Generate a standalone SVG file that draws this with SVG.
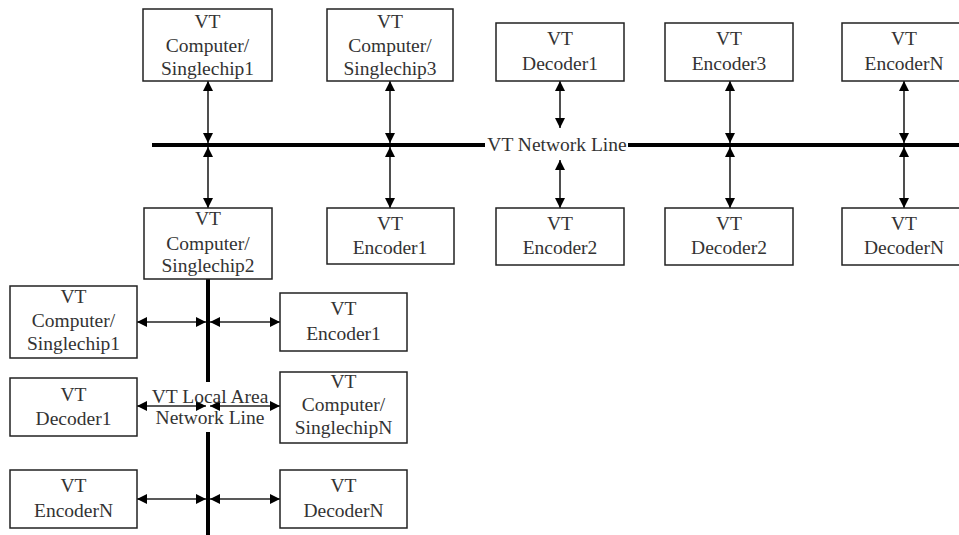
<svg xmlns="http://www.w3.org/2000/svg" width="959" height="535" viewBox="0 0 959 535">
<style>
.box{fill:#fff;stroke:#222;stroke-width:1.5}
text{font-family:"Liberation Serif","Times New Roman",serif;font-size:19.5px;fill:#333;text-anchor:middle}
.c{stroke:#222;stroke-width:1.6;fill:none;marker-start:url(#ah);marker-end:url(#ah)}
.bus{stroke:#000;stroke-width:4;fill:none}
</style>
<defs>
<marker id="ah" viewBox="0 0 10 10" refX="10" refY="5" markerWidth="10" markerHeight="10" markerUnits="userSpaceOnUse" orient="auto-start-reverse">
<path d="M0,0 L10,5 L0,10 z" fill="#000"/>
</marker>
</defs>
<rect width="959" height="535" fill="#fff"/>
<g id="connectors">
<path class="bus" d="M152,145 H485 M628,145 H959"/>
<path class="bus" d="M208,279 V382 M208,432 V535"/>
<path class="c" d="M208,81 V143"/>
<path class="c" d="M208,147 V208"/>
<path class="c" d="M390,81 V143"/>
<path class="c" d="M390,147 V208"/>
<path class="c" d="M560,81 V128"/>
<path class="c" d="M560,160 V208"/>
<path class="c" d="M730,81 V143"/>
<path class="c" d="M730,147 V208"/>
<path class="c" d="M904,81 V143"/>
<path class="c" d="M904,147 V208"/>
<path class="c" d="M137,322 H206"/>
<path class="c" d="M210,322 H280"/>
<path class="c" d="M137,406 H206"/>
<path class="c" d="M210,406 H280"/>
<path class="c" d="M137,499 H206"/>
<path class="c" d="M210,499 H280"/>
<text x="557" y="151">VT Network Line</text>
<text x="210" y="403">VT Local Area</text>
<text x="210" y="424">Network Line</text>
</g>
<g id="cs1"><rect class="box" x="143" y="9" width="129" height="72"/><text x="207.5" y="28">VT</text><text x="207.5" y="52">Computer/</text><text x="207.5" y="75">Singlechip1</text></g>
<g id="cs3"><rect class="box" x="327" y="9" width="126" height="72"/><text x="390" y="28">VT</text><text x="390" y="52">Computer/</text><text x="390" y="75">Singlechip3</text></g>
<g id="dec1"><rect class="box" x="496" y="23" width="128" height="58"/><text x="560" y="45">VT</text><text x="560" y="70">Decoder1</text></g>
<g id="enc3"><rect class="box" x="665" y="23" width="128" height="58"/><text x="729" y="45">VT</text><text x="729" y="70">Encoder3</text></g>
<g id="encN"><rect class="box" x="842" y="23" width="128" height="58"/><text x="904" y="45">VT</text><text x="904" y="70">EncoderN</text></g>
<g id="cs2"><rect class="box" x="144" y="208" width="128" height="71"/><text x="208" y="225">VT</text><text x="208" y="250">Computer/</text><text x="208" y="272">Singlechip2</text></g>
<g id="enc1"><rect class="box" x="327" y="208" width="127" height="56"/><text x="390" y="230">VT</text><text x="390" y="254">Encoder1</text></g>
<g id="enc2"><rect class="box" x="496" y="208" width="128" height="57"/><text x="560" y="230">VT</text><text x="560" y="254">Encoder2</text></g>
<g id="dec2"><rect class="box" x="665" y="208" width="128" height="57"/><text x="729" y="230">VT</text><text x="729" y="254">Decoder2</text></g>
<g id="decN"><rect class="box" x="842" y="208" width="128" height="57"/><text x="904" y="230">VT</text><text x="904" y="254">DecoderN</text></g>
<g id="lcs1"><rect class="box" x="10" y="286" width="127" height="72"/><text x="73.5" y="303">VT</text><text x="73.5" y="327">Computer/</text><text x="73.5" y="350">Singlechip1</text></g>
<g id="lenc1"><rect class="box" x="280" y="293" width="127" height="58"/><text x="343.5" y="315">VT</text><text x="343.5" y="340">Encoder1</text></g>
<g id="ldec1"><rect class="box" x="10" y="378" width="127" height="58"/><text x="73.5" y="401">VT</text><text x="73.5" y="425">Decoder1</text></g>
<g id="lcsN"><rect class="box" x="280" y="372" width="127" height="71"/><text x="343.5" y="388">VT</text><text x="343.5" y="411">Computer/</text><text x="343.5" y="434">SinglechipN</text></g>
<g id="lencN"><rect class="box" x="10" y="470" width="127" height="58"/><text x="73.5" y="492">VT</text><text x="73.5" y="517">EncoderN</text></g>
<g id="ldecN"><rect class="box" x="280" y="470" width="127" height="58"/><text x="343.5" y="492">VT</text><text x="343.5" y="517">DecoderN</text></g>
</svg>
